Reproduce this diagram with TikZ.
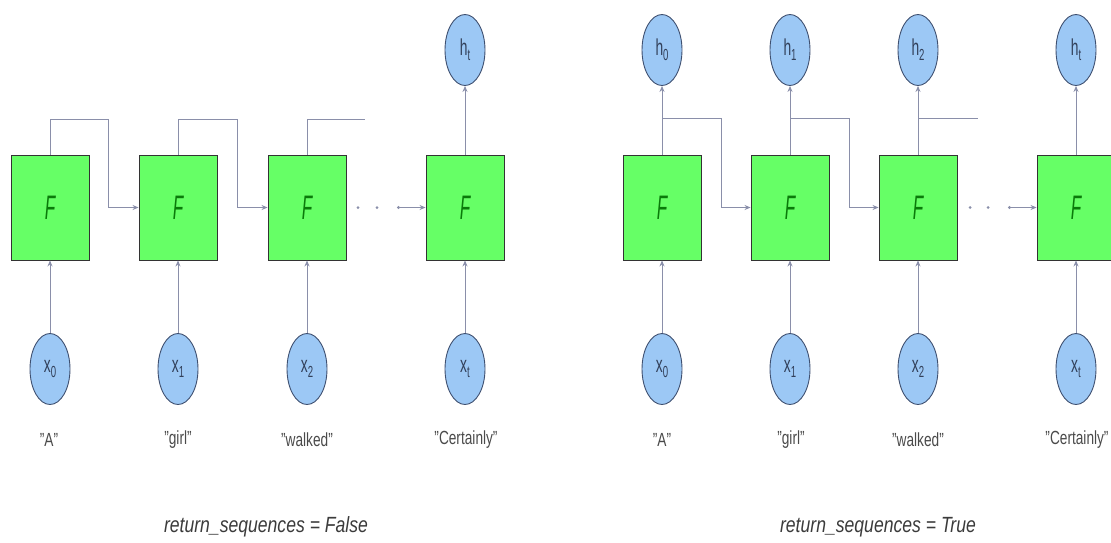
\documentclass[tikz,border=0pt]{standalone}
\usepackage{fontspec}
\usepackage{graphicx}
\setmainfont{Liberation Sans}
\usetikzlibrary{shapes.geometric,arrows.meta}
\definecolor{boxgreen}{HTML}{66FF66}
\definecolor{fgreen}{HTML}{0A7A0A}
\definecolor{cblue}{HTML}{9CC8F5}
\definecolor{cedge}{HTML}{3F5070}
\definecolor{wirec}{HTML}{8A8FAA}
\definecolor{txt}{HTML}{4A4A4A}
\newcommand{\cnd}[2][0.72]{\scalebox{#1}[1]{#2}}
\newcommand{\qq}{\symbol{34}}
\newcommand{\sv}[2]{\scalebox{0.6}[1]{#1\raisebox{-0.4ex}{\fontsize{16}{16}\selectfont #2}}}
\newcommand{\FF}{\scalebox{0.5}[1]{F}}
\tikzset{
 cell/.style={draw=black!80, line width=0.9pt, fill=boxgreen, minimum width=78pt, minimum height=105pt, inner sep=0pt, font=\fontsize{34}{34}\selectfont\itshape, text=fgreen},
 var/.style={ellipse, draw=cedge, line width=0.9pt, fill=cblue, minimum width=40pt, minimum height=71pt, inner sep=0pt, text=cedge!80!black, font=\fontsize{23}{23}\selectfont},
 word/.style={text=txt, font=\fontsize{19}{19}\selectfont},
 caption/.style={text=txt!80!black, font=\fontsize{22}{22}\selectfont\itshape},
 wire/.style={draw=wirec, line width=0.8pt},
 arr/.style={wire, -{Stealth[length=6pt,width=5pt]}},
 tailarr/.style={wire, {Circle[length=3pt]}-{Stealth[length=6pt,width=5pt]}},
 dotc/.style={circle, fill=wirec, inner sep=0pt, minimum size=3pt}
}
\begin{document}
\begin{tikzpicture}[x=1pt,y=-1pt]
\useasboundingbox (0,0) rectangle (1111,542);
% ---------------- left panel ----------------
\node[cell] (L1) at (50,207.5) {\FF};
\node[cell] (L2) at (178,207.5) {\FF};
\node[cell] (L3) at (307,207.5) {\FF};
\node[cell] (L4) at (465,207.5) {\FF};
\node[var] (LH) at (465,50) {\sv{h}{t}};
\node[var] (LX0) at (50,369) {\sv{x}{0}};
\node[var] (LX1) at (178,369) {\sv{x}{1}};
\node[var] (LX2) at (307,369) {\sv{x}{2}};
\node[var] (LX3) at (465,369) {\sv{x}{t}};
\node[word] (LW0) at (49,440) {\cnd{\qq A\qq}};
\node[word] (LW1) at (178,440) {\cnd{\qq girl\qq}};
\node[word] (LW2) at (307,440) {\cnd{\qq walked\qq}};
\node[word] (LW3) at (466,440) {\cnd{\qq Certainly\qq}};
\node[caption] (LC) at (266,527) {\cnd[0.8]{return\_sequences = False}};
\foreach \i/\j in {X0/1,X1/2,X2/3,X3/4} \draw[arr] (L\i.north) -- (L\j.south);
\draw[arr] (L4.north) -- (LH.south);
\coordinate (la1) at (108,119);
\coordinate (la2) at (237,119);
\coordinate (la3) at (365,119);
\draw[arr] (L1.north) -- (L1.north |- la1) -- (la1) -- (la1 |- L2.west) -- (L2.west);
\draw[arr] (L2.north) -- (L2.north |- la2) -- (la2) -- (la2 |- L3.west) -- (L3.west);
\draw[wire] (L3.north) -- (L3.north |- la3) -- (la3);
\node[dotc] (ld1) at (358,207.5) {};
\node[dotc] (ld2) at (377,207.5) {};
\coordinate (ls4) at (397,207.5);
\draw[tailarr] (ls4) -- (L4.west);
% ---------------- right panel ----------------
\node[cell] (R1) at (662,207.5) {\FF};
\node[cell] (R2) at (790,207.5) {\FF};
\node[cell] (R3) at (918,207.5) {\FF};
\node[cell] (R4) at (1076,207.5) {\FF};
\node[var] (RH1) at (662,50) {\sv{h}{0}};
\node[var] (RH2) at (790,50) {\sv{h}{1}};
\node[var] (RH3) at (918,50) {\sv{h}{2}};
\node[var] (RH4) at (1076,50) {\sv{h}{t}};
\node[var] (RX1) at (662,369) {\sv{x}{0}};
\node[var] (RX2) at (790,369) {\sv{x}{1}};
\node[var] (RX3) at (918,369) {\sv{x}{2}};
\node[var] (RX4) at (1076,369) {\sv{x}{t}};
\node[word] (RW1) at (662,440) {\cnd{\qq A\qq}};
\node[word] (RW2) at (791,440) {\cnd{\qq girl\qq}};
\node[word] (RW3) at (918,440) {\cnd{\qq walked\qq}};
\node[word] (RW4) at (1077,440) {\cnd{\qq Certainly\qq}};
\node[caption] (RC) at (878,527) {\cnd[0.8]{return\_sequences = True}};
\foreach \i in {1,2,3,4} {
  \draw[arr] (RX\i.north) -- (R\i.south);
  \draw[arr] (R\i.north) -- (RH\i.south);
}
\coordinate (ra1) at (721,118);
\coordinate (ra2) at (849,118);
\coordinate (ra3) at (978,118);
\draw[arr] (R1.north |- ra1) -- (ra1) -- (ra1 |- R2.west) -- (R2.west);
\draw[arr] (R2.north |- ra2) -- (ra2) -- (ra2 |- R3.west) -- (R3.west);
\draw[wire] (R3.north |- ra3) -- (ra3);
\node[dotc] (rd1) at (970,207.5) {};
\node[dotc] (rd2) at (988,207.5) {};
\coordinate (rs4) at (1008,207.5);
\draw[tailarr] (rs4) -- (R4.west);
\end{tikzpicture}
\end{document}
